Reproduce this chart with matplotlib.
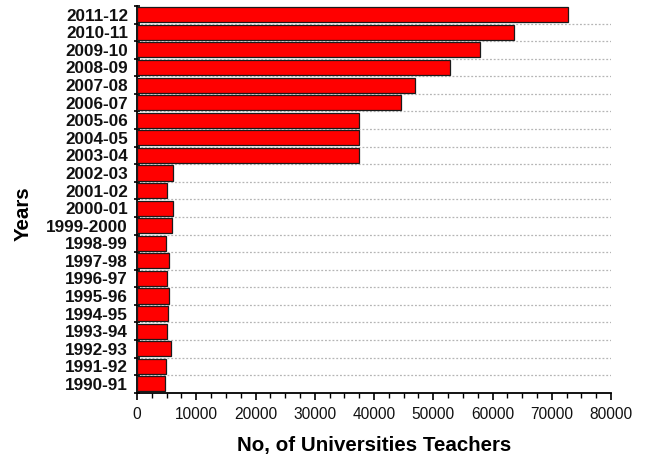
import numpy as np
import matplotlib.pyplot as plt
from matplotlib.ticker import MultipleLocator, FixedLocator

plt.rcParams['font.family'] = ['Liberation Sans', 'DejaVu Sans']

years = ["1990-91", "1991-92", "1992-93", "1993-94", "1994-95", "1995-96",
         "1996-97", "1997-98", "1998-99", "1999-2000", "2000-01", "2001-02",
         "2002-03", "2003-04", "2004-05", "2005-06", "2006-07", "2007-08",
         "2008-09", "2009-10", "2010-11", "2011-12"]
teachers = [4730, 4840, 5740, 5060, 5290, 5460,
            5060, 5460, 4840, 5900, 6020, 5120,
            6020, 37470, 37470, 37470, 44560, 46920,
            52880, 57890, 63580, 72700]

fig = plt.figure(figsize=(6.48, 4.59), dpi=100)
ax = fig.add_axes([0.2114, 0.1444, 0.7316, 0.8426])

y = np.arange(len(years))
ax.barh(y, teachers, height=0.86, color='#ff0000', edgecolor='#1a1a1a',
        linewidth=0.9, zorder=3)

ax.set_xlim(0, 80000)
ax.set_ylim(-0.5, len(years) - 0.5)

ax.set_yticks(y)
ax.set_yticklabels(years, fontsize=12.3, fontweight='bold', color='#111111')
ax.tick_params(axis='y', which='major', length=0, pad=6.5)
bounds = np.arange(-0.5, len(years), 1.0)
ax.yaxis.set_minor_locator(FixedLocator(bounds))
ax.tick_params(axis='y', which='minor', length=5, width=1.2, direction='inout')

ax.xaxis.set_major_locator(MultipleLocator(10000))
ax.xaxis.set_minor_locator(MultipleLocator(2500))
ax.tick_params(axis='x', which='major', length=5, width=1.2, labelsize=11.2,
               pad=5, labelcolor='#111111')
ax.tick_params(axis='x', which='minor', length=3.5, width=1.0)

for b in bounds[1:-1]:
    ax.axhline(b, color='#b5b5b5', lw=0.9, ls=(0, (1.5, 1.5)), zorder=1)

for s in ['top', 'right']:
    ax.spines[s].set_visible(False)
ax.spines['left'].set_linewidth(1.3)
ax.spines['bottom'].set_linewidth(1.3)

ax.set_xlabel('No, of Universities Teachers', fontsize=14.8, fontweight='bold')
ax.set_ylabel('Years', fontsize=14.8, fontweight='bold')
ax.xaxis.set_label_coords(0.5, -0.112)
ax.yaxis.set_label_coords(-0.221, 0.462)

plt.savefig("out.png", dpi=100)
plt.close()
